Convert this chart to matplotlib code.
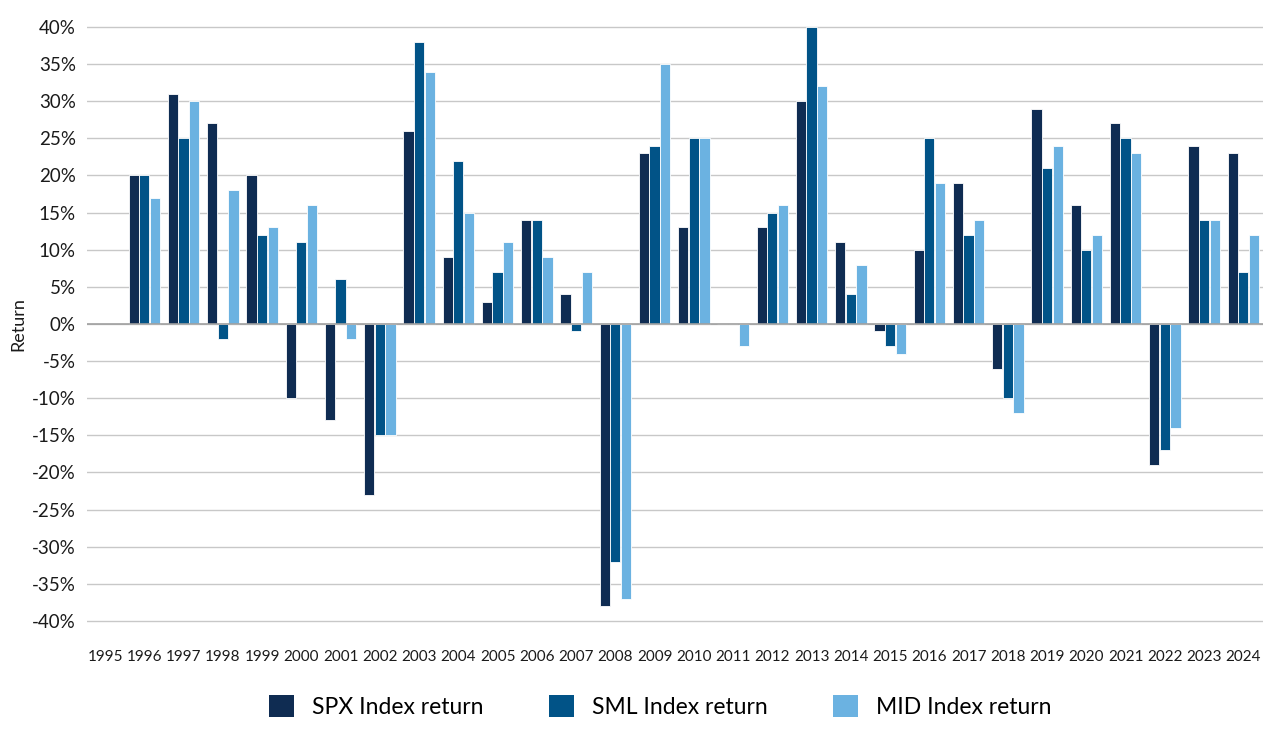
import numpy as np
import matplotlib.pyplot as plt
from matplotlib.ticker import FuncFormatter
from matplotlib.patches import Patch

plt.rcParams['font.family'] = ['Lato', 'DejaVu Sans']

# data (percent returns)
years = list(range(1995, 2025))
spx = [np.nan, 20, 31, 27, 20, -10, -13, -23, 26, 9, 3, 14, 4, -38, 23, 13,
       0, 13, 30, 11, -1, 10, 19, -6, 29, 16, 27, -19, 24, 23]
sml = [np.nan, 20, 25, -2, 12, 11, 6, -15, 38, 22, 7, 14, -1, -32, 24, 25,
       0, 15, 40, 4, -3, 25, 12, -10, 21, 10, 25, -17, 14, 7]
mid = [np.nan, 17, 30, 18, 13, 16, -2, -15, 34, 15, 11, 9, 7, -37, 35, 25,
       -3, 16, 32, 8, -4, 19, 14, -12, 24, 12, 23, -14, 14, 12]
series_names = ["SPX Index return", "SML Index return", "MID Index return"]
colors = ["#0f2c52", "#015387", "#6bb2e1"]

fig = plt.figure(figsize=(12.8, 7.41), dpi=100)
ax = fig.add_axes([0.068, 0.157, 0.919, 0.8116])

x = np.arange(len(years))
w = 0.26
offsets = [-0.27, 0.0, 0.27]
for vals, off, c in zip([spx, sml, mid], offsets, colors):
    ax.bar(x + off, np.array(vals, dtype=float), width=w, color=c,
           edgecolor="white", linewidth=0.6, zorder=3)

ax.set_ylim(-40.5, 40.5)
ax.set_xlim(-0.46, len(years) - 1 + 0.51)
ax.set_yticks(np.arange(-40, 41, 5))
ax.yaxis.set_major_formatter(FuncFormatter(lambda v, p: f"{int(v)}%"))
ax.set_xticks(x)
ax.set_xticklabels([str(y) for y in years])
ax.grid(axis="y", color="#c8c8c8", linewidth=1, zorder=0)
ax.axhline(0, color="#a0a0a0", linewidth=1.2, zorder=4)
for s in ax.spines.values():
    s.set_visible(False)
ax.tick_params(axis="both", length=0, colors="#1a1a1a")
ax.tick_params(axis="y", labelsize=13.5, pad=8)
ax.tick_params(axis="x", labelsize=11, pad=18)
ax.set_ylabel("Return", fontsize=13, color="#1a1a1a", labelpad=4)

handles = [Patch(facecolor=c, edgecolor="none") for c in colors]
fig.legend(handles, series_names, loc="center", bbox_to_anchor=(0.516, 0.047),
           ncol=3, frameon=False, fontsize=16.5, handlelength=1.09, handleheight=1.13,
           columnspacing=2.84, handletextpad=0.79)

fig.savefig("out.png", dpi=100)
